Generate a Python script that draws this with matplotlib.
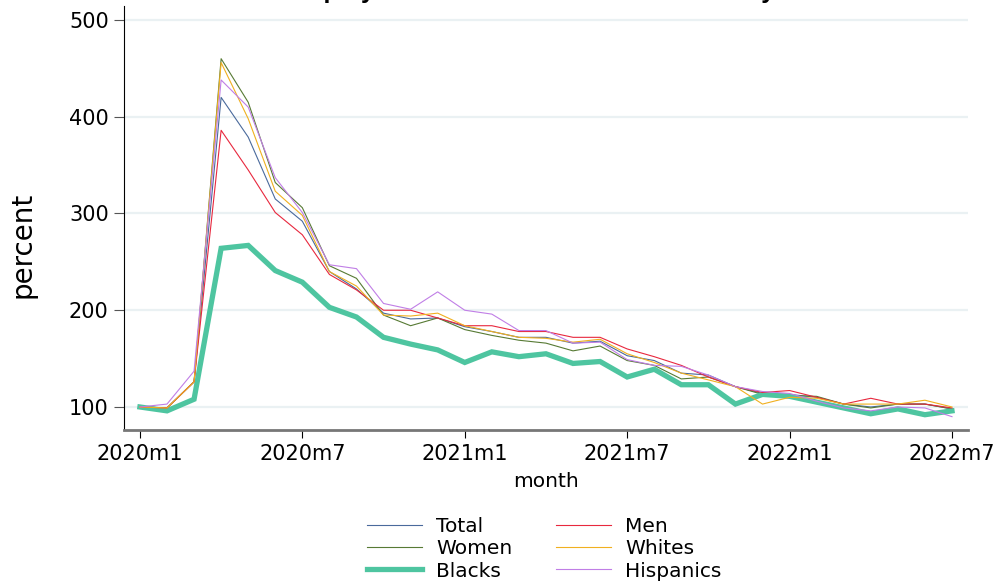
import numpy as np
import matplotlib
matplotlib.use("Agg")
import matplotlib.pyplot as plt

plt.rcParams['font.family'] = ['DejaVu Sans']

# monthly index, 2020m1 = 100
months = np.arange(31)
tick_pos = [0, 6, 12, 18, 24, 30]
tick_labels = ["2020m1", "2020m7", "2021m1", "2021m7", "2022m1", "2022m7"]

total = [100, 99, 126, 420, 379, 315, 292, 240, 222, 197, 191, 192, 183, 178, 172, 172,
         166, 168, 153, 148, 135, 133, 121, 114, 113, 110, 103, 100, 103, 103, 98]
men = [100, 99, 126, 386, 345, 301, 278, 237, 221, 200, 200, 192, 184, 184, 178, 178,
       172, 172, 160, 152, 143, 131, 121, 115, 117, 110, 103, 109, 103, 103, 99]
women = [100, 99, 126, 460, 415, 332, 306, 246, 233, 195, 184, 192, 180, 174, 169, 166,
         158, 163, 148, 143, 129, 131, 121, 113, 112, 111, 103, 99, 103, 103, 98]
whites = [100, 99, 126, 456, 398, 323, 298, 240, 225, 195, 194, 197, 184, 178, 172, 171,
          167, 170, 155, 146, 135, 128, 121, 103, 110, 109, 103, 103, 103, 107, 100]
blacks = [100, 96, 108, 264, 267, 241, 229, 203, 193, 172, 165, 159, 146, 157, 152, 155,
          145, 147, 131, 139, 123, 123, 103, 113, 111, 105, 99, 93, 98, 92, 96]
hispanics = [100, 103, 137, 438, 410, 337, 301, 247, 243, 207, 201, 219, 200, 196, 179, 179,
             166, 167, 149, 143, 142, 133, 121, 116, 114, 106, 99, 96, 100, 99, 90]

fig = plt.figure(figsize=(9.94, 5.86), dpi=100)
ax = fig.add_axes([0.1247, 0.2662, 0.8491, 0.7236])

ax.plot(months, total, color="#4a6a9c", lw=0.8, label="Total")
ax.plot(months, women, color="#577a34", lw=0.8, label="Women")
ax.plot(months, blacks, color="#4ec5a0", lw=3.8, label="Blacks", solid_joinstyle="miter")
ax.plot(months, men, color="#e8283e", lw=0.8, label="Men")
ax.plot(months, whites, color="#f0b020", lw=0.8, label="Whites")
ax.plot(months, hispanics, color="#c07ee6", lw=0.8, label="Hispanics")

ax.set_xlim(-0.59, 30.59)
ax.set_ylim(76.2, 514.5)
ax.set_yticks([100, 200, 300, 400, 500])
ax.set_xticks(tick_pos)
ax.set_xticklabels(tick_labels)
ax.grid(axis="y", color="#eaf1f3", lw=1.6, zorder=0)
ax.set_axisbelow(True)

for s in ["top", "right"]:
    ax.spines[s].set_visible(False)
ax.spines["left"].set_color("black")
ax.spines["left"].set_linewidth(0.8)
ax.spines["bottom"].set_color("#777777")
ax.spines["bottom"].set_linewidth(2)
ax.tick_params(axis="y", length=7, width=0.8, color="#555555", labelsize=15, pad=4)
ax.tick_params(axis="x", length=6, width=0.8, color="black", labelsize=15, pad=4)

ax.set_ylabel("percent", fontsize=20)
ax.yaxis.set_label_coords(-0.12, 0.436)
ax.yaxis.label.set_va("center")
ax.set_xlabel("month", fontsize=14.5)
ax.xaxis.set_label_coords(0.5, -0.122)
ax.xaxis.label.set_va("center")

# title sits mostly above the canvas, only descenders show
fig.text(546 / 994, 1 + 2.5 / 586, "Unemployment numbers relative to January 2020",
         ha="center", va="baseline", fontsize=18, fontweight="bold",
         family="Liberation Sans")

h, l = ax.get_legend_handles_labels()
fig.legend(h, l, ncol=2, loc="center", bbox_to_anchor=(544 / 994, 1 - 549 / 586),
           frameon=False, fontsize=14.5, handlelength=2.75, handletextpad=0.7,
           columnspacing=2.15, labelspacing=0.15, borderpad=0)

fig.savefig("out.png", dpi=100)
